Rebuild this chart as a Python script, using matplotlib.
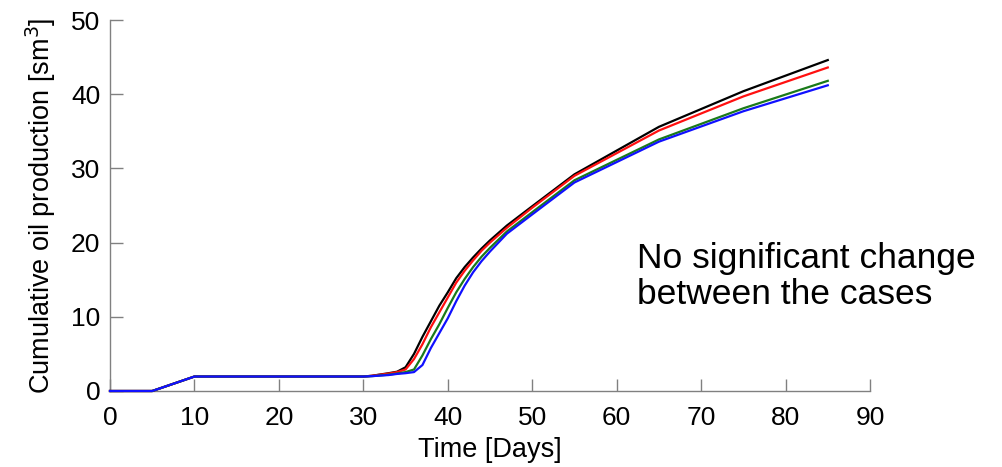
import matplotlib
matplotlib.use("Agg")
import matplotlib.pyplot as plt

time_days = [0, 5, 10, 30, 31, 33, 34, 35, 36, 37, 38, 39, 40, 41, 42, 43, 44, 45, 47, 50, 55, 65, 75, 85]
case_black = [0, 0, 1.95, 1.95, 2.05, 2.4, 2.6, 3.2, 5.0, 7.3, 9.4, 11.5, 13.3, 15.2, 16.7, 18.0, 19.2, 20.3, 22.3, 24.9, 29.2, 35.6, 40.4, 44.6]
case_red = [0, 0, 1.95, 1.95, 2.05, 2.35, 2.55, 2.9, 4.3, 6.3, 8.6, 10.6, 12.6, 14.6, 16.2, 17.6, 18.9, 20.0, 22.0, 24.7, 29.0, 35.1, 39.7, 43.6]
case_green = [0, 0, 1.95, 1.95, 2.0, 2.2, 2.35, 2.55, 2.9, 4.8, 7.0, 9.0, 11.2, 13.3, 15.1, 16.7, 18.1, 19.3, 21.5, 24.1, 28.4, 33.9, 38.1, 41.8]
case_blue = [0, 0, 1.95, 1.95, 2.0, 2.15, 2.3, 2.4, 2.55, 3.5, 5.8, 7.8, 9.8, 12.1, 14.2, 16.0, 17.5, 18.8, 21.2, 23.8, 28.1, 33.6, 37.7, 41.2]

x_ticks = [0, 10, 20, 30, 40, 50, 60, 70, 80, 90]
y_ticks = [0, 10, 20, 30, 40, 50]

plt.rcParams['font.family'] = ['Liberation Sans', 'DejaVu Sans']

fig = plt.figure(figsize=(10.02, 4.67), dpi=100)
ax = fig.add_axes([110/1002, 1 - 391/467, (870-110)/1002, (391-20)/467])

series = [(case_black, '#000000'), (case_red, '#ff1010'), (case_green, '#1a7a1a'), (case_blue, '#1010ff')]
for vals, col in series:
    ax.plot(time_days, vals, color=col, lw=1.6, clip_on=False, zorder=3)

ax.set_xlim(0, 90)
ax.set_ylim(0, 50)
ax.set_xticks(x_ticks)
ax.set_yticks(y_ticks)
for s in ['top', 'right']:
    ax.spines[s].set_visible(False)
for s in ['left', 'bottom']:
    ax.spines[s].set_color('#808080')
    ax.spines[s].set_linewidth(1.0)
ax.tick_params(axis='both', direction='in', length=9, color='#808080', labelsize=19, width=1.0)
ax.tick_params(axis='x', pad=11)
ax.tick_params(axis='y', pad=7)

ax.set_xlabel('Time [Days]', fontsize=19.5, labelpad=5)
ax.set_ylabel('Cumulative oil production [sm$^3$]', fontsize=19.5, labelpad=9)

fig.text(637/1002, 1 - 242/467, 'No significant change\nbetween the cases', fontsize=25.5,
         ha='left', va='top', linespacing=1.13)

fig.savefig('out.png', dpi=100)
